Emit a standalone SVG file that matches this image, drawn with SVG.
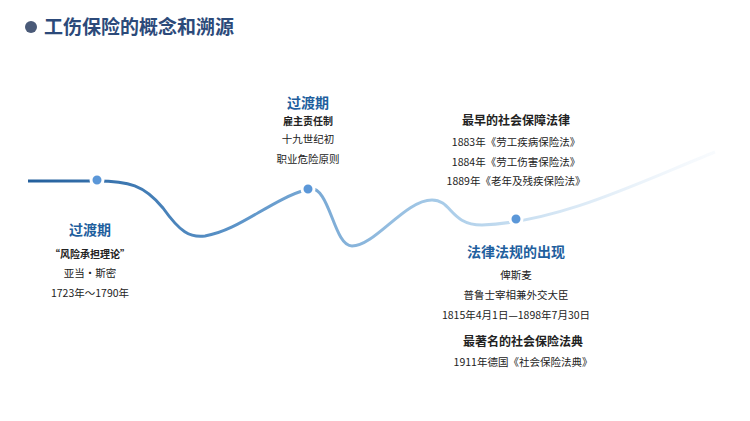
<svg xmlns="http://www.w3.org/2000/svg" width="750" height="421" viewBox="0 0 750 421">
<defs>
<linearGradient id="g" gradientUnits="userSpaceOnUse" x1="28" y1="0" x2="715" y2="0">
<stop offset="0" stop-color="#235f9c"/>
<stop offset="0.3" stop-color="#5b93c8"/>
<stop offset="0.6" stop-color="#a7cbe8"/>
<stop offset="1" stop-color="#e8f1fa" stop-opacity="0.3"/>
</linearGradient>
</defs>
<style>
text{font-family:"Noto Sans CJK SC","Liberation Sans",sans-serif;fill:#222;text-anchor:middle;font-size:10.5px}
.h{fill:#1f5f9e;font-size:14px;font-weight:bold}
.b{font-weight:bold;font-size:12px}
.s{font-weight:bold;font-size:10px}
.dot{fill:#5b97d8;stroke:#fff;stroke-width:3}
</style>
<rect width="750" height="421" fill="#fff"/>
<g id="title">
<circle cx="31" cy="27" r="6" fill="#4a5a78"/>
<text x="44" y="34" style="text-anchor:start;font-size:19px;font-weight:bold;fill:#2c4a7a">工伤保险的概念和溯源</text>
</g>
<g id="connectors">
<path d="M28,181 L90,181 C130,180 145,186 163,208 C180,232 190,238 205,236 C240,230 270,200 308,189 C330,183 333,246 352,246 C375,246 405,200 432,200 C452,200 450,225 482,225 C560,222 640,182 715,152" fill="none" stroke="url(#g)" stroke-width="3"/>
</g>
<g id="n1">
<circle class="dot" cx="97" cy="180" r="6"/>
<text class="h" x="90" y="235">过渡期</text>
<text class="s" x="90" y="258">“风险承担理论”</text>
<text x="90" y="277">亚当·斯密</text>
<text x="90" y="297">1723年～1790年</text>
</g>
<g id="n2">
<circle class="dot" cx="308" cy="189" r="6"/>
<text class="h" x="308" y="108">过渡期</text>
<text class="s" x="308" y="125">雇主责任制</text>
<text x="308" y="143">十九世纪初</text>
<text x="308" y="163">职业危险原则</text>
</g>
<g id="n3">
<text class="b" x="516" y="125">最早的社会保障法律</text>
<text x="516" y="146">1883年《劳工疾病保险法》</text>
<text x="516" y="166">1884年《劳工伤害保险法》</text>
<text x="516" y="185">1889年《老年及残疾保险法》</text>
</g>
<g id="n4">
<circle class="dot" cx="516" cy="219" r="6"/>
<text class="h" x="516" y="257">法律法规的出现</text>
<text x="516" y="279">俾斯麦</text>
<text x="516" y="299">普鲁士宰相兼外交大臣</text>
<text x="516" y="319">1815年4月1日—1898年7月30日</text>
<text class="b" x="523" y="346">最著名的社会保险法典</text>
<text x="523" y="366">1911年德国《社会保险法典》</text>
</g>
</svg>
